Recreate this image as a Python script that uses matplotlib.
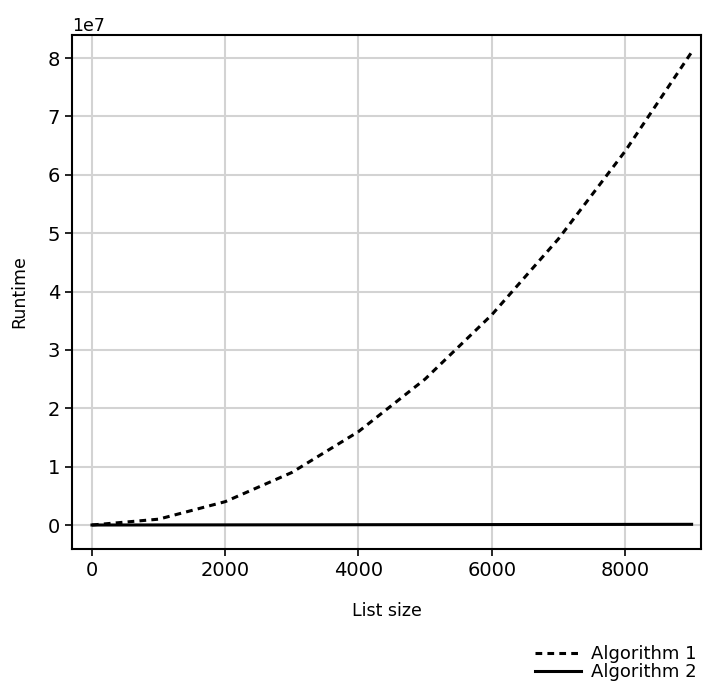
import matplotlib
matplotlib.use("Agg")
import matplotlib.pyplot as plt

sizes = [0, 1000, 2000, 3000, 4000, 5000, 6000, 7000, 8000, 9000]
algo1 = [0, 1.0e6, 4.0e6, 9.0e6, 1.6e7, 2.5e7, 3.6e7, 4.9e7, 6.4e7, 8.1e7]
algo2 = [0, 1.0e4, 2.2e4, 3.5e4, 4.8e4, 6.1e4, 7.5e4, 8.9e4, 1.04e5, 1.18e5]
labels = ["Algorithm 1", "Algorithm 2"]

plt.rcParams['font.family'] = ['DejaVu Sans']

fig = plt.figure(figsize=(7.07, 6.91), dpi=100)
ax = fig.add_axes([72 / 707, 1 - 549 / 691, 629 / 707, 514 / 691])

ax.plot(sizes, algo1, color='black', lw=2.2, linestyle=(0, (2.2, 1.7)), label=labels[0])
ax.plot(sizes, algo2, color='black', lw=2.2, label=labels[1])

ax.set_xlim(-300, 9141)
ax.set_ylim(-0.411e7, 8.394e7)
ax.grid(True, color='#d3d3d3', lw=1.5)
ax.set_axisbelow(True)
for s in ax.spines.values():
    s.set_linewidth(1.5)
ax.tick_params(labelsize=14, width=1.2, length=5)
ax.yaxis.get_offset_text().set_fontsize(12.5)

ax.set_xlabel("List size", fontsize=12.5, labelpad=16)
ax.set_ylabel("Runtime", fontsize=12.5, labelpad=14)

fig.legend(loc='lower right', bbox_to_anchor=(1.0, 0.0), frameon=False,
           fontsize=13, handlelength=2.5, labelspacing=0.0, borderaxespad=0.15,
           handletextpad=0.6)

fig.savefig("out.png", dpi=100)
